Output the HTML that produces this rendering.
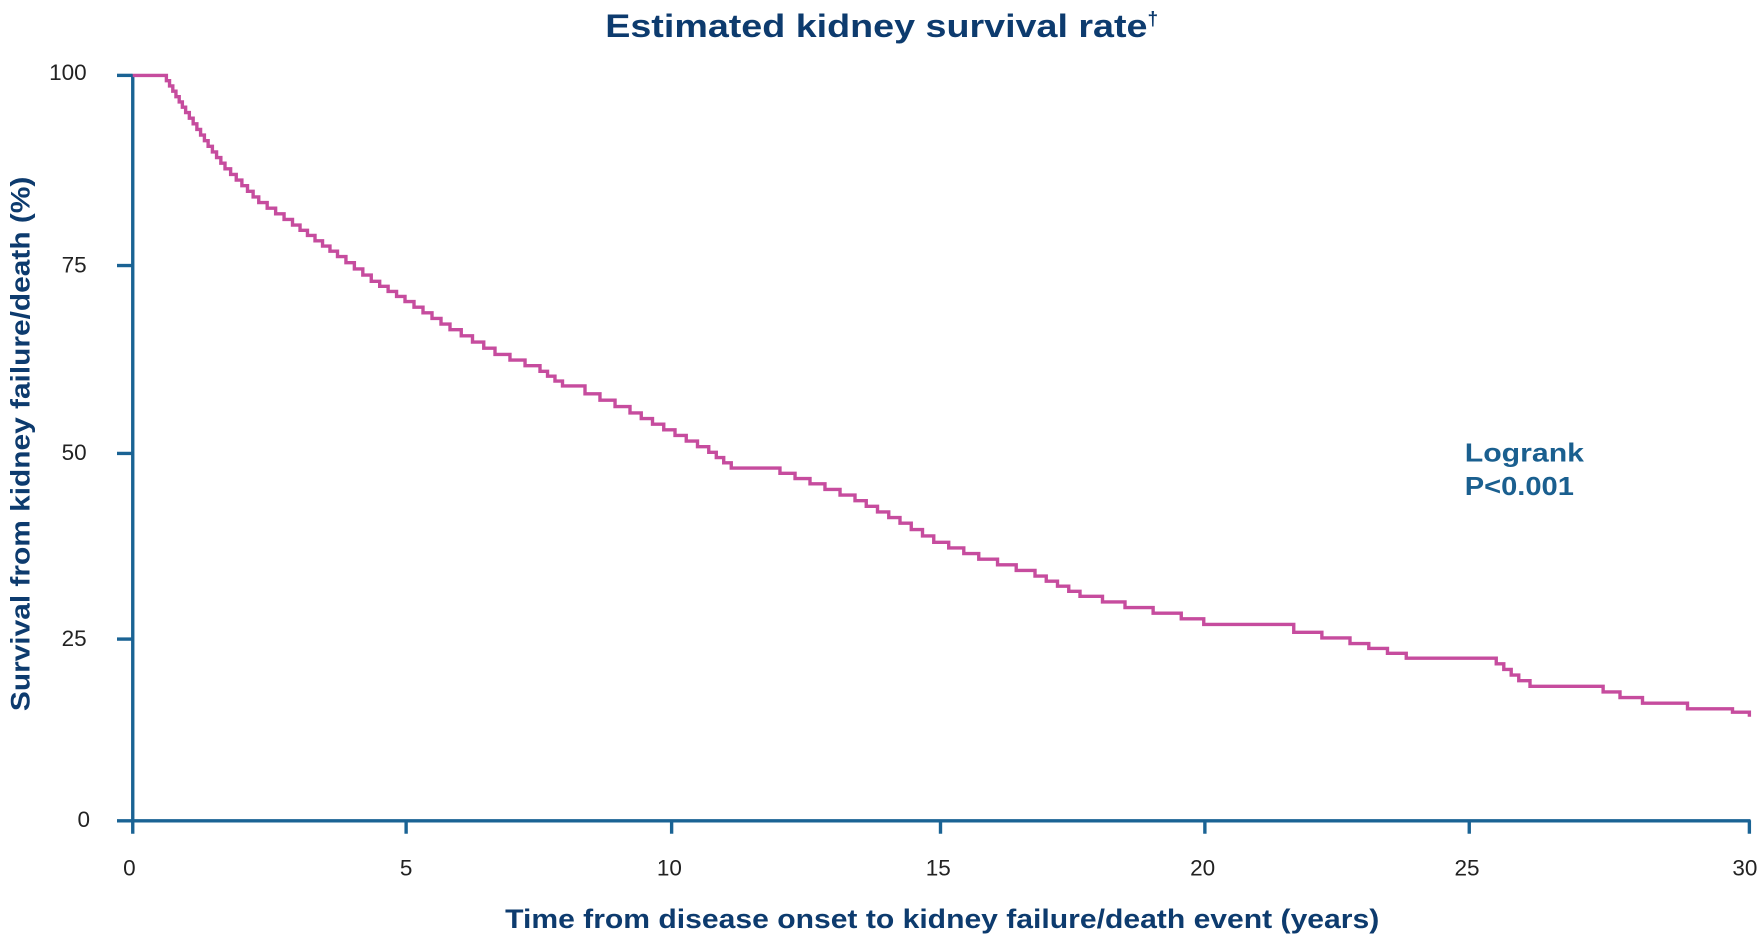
<!DOCTYPE html>
<html><head><meta charset="utf-8"><style>html,body{margin:0;padding:0;background:#fff}svg{display:block}</style></head>
<body>
<svg id="s" width="1764" height="944" viewBox="0 0 1568 839" preserveAspectRatio="none" xmlns="http://www.w3.org/2000/svg" font-family="Liberation Sans, sans-serif">
<text x="538" y="33" textLength="482" lengthAdjust="spacingAndGlyphs" font-size="29" font-weight="bold" fill="#0d3b6e">Estimated kidney survival rate</text>
<text x="1020" y="22" font-size="17" font-weight="bold" fill="#0d3b6e">†</text>
<g stroke="#1a6394" stroke-width="3" fill="none">
<line x1="118" y1="66" x2="118" y2="741"/>
<line x1="104" y1="729.5" x2="1556" y2="729.5"/>
<line x1="104" y1="67" x2="118" y2="67"/>
<line x1="104" y1="236" x2="118" y2="236"/>
<line x1="104" y1="403" x2="118" y2="403"/>
<line x1="104" y1="568" x2="118" y2="568"/>
<line x1="361" y1="729" x2="361" y2="741"/>
<line x1="597" y1="729" x2="597" y2="741"/>
<line x1="836" y1="729" x2="836" y2="741"/>
<line x1="1071" y1="729" x2="1071" y2="741"/>
<line x1="1306" y1="729" x2="1306" y2="741"/>
<line x1="1555" y1="729" x2="1555" y2="741"/>
</g>
<g font-size="20" fill="#222" text-anchor="end">
<text x="77" y="71">100</text><text x="77" y="242">75</text><text x="77" y="409">50</text><text x="77" y="574">25</text><text x="80" y="735">0</text>
</g>
<g font-size="20" fill="#222" text-anchor="middle">
<text x="115" y="778">0</text><text x="361" y="778">5</text><text x="595" y="778">10</text><text x="834" y="778">15</text><text x="1069" y="778">20</text><text x="1304" y="778">25</text><text x="1551" y="778">30</text>
</g>
<text x="449" y="825" textLength="777" lengthAdjust="spacingAndGlyphs" font-size="24" font-weight="bold" fill="#0d3b6e">Time from disease onset to kidney failure/death event (years)</text>
<text transform="translate(26,632) rotate(-90)" textLength="475" lengthAdjust="spacingAndGlyphs" font-size="24" font-weight="bold" fill="#0d3b6e">Survival from kidney failure/death (%)</text>
<text x="1302" y="410" textLength="106" lengthAdjust="spacingAndGlyphs" font-size="23" font-weight="bold" fill="#1a5f8f">Logrank</text>
<text x="1302" y="440" textLength="97" lengthAdjust="spacingAndGlyphs" font-size="23" font-weight="bold" fill="#1a5f8f">P&lt;0.001</text>
<path id="c" fill="none" stroke="#c64c9e" stroke-width="3" d=""/>
</svg>
<script>
var a=[[118,67],[145,67],[165,100],[185,130],[200,150],[230,180],[260,200],[300,228],[330,250],[360,268],[400,293],[440,315],[480,330],[500,343],[520,350],[560,367],[580,377],[600,387],[630,402],[650,416],[680,416],[720,430],[760,445],[800,465],[830,482],[870,497],[920,512],[960,530],[1000,540],[1050,550],[1070,555],[1110,555],[1150,562],[1200,572],[1250,585],[1305,585],[1330,590],[1350,605],[1360,610],[1410,610],[1440,620],[1460,625],[1500,630],[1540,633],[1555,637]];
var d="M118,67";var cx=118,cy=67;
for(var i=1;i<a.length;i++){var x=a[i][0],y=a[i][1];var dy=y-cy,dx=x-cx;var n=Math.max(1,Math.round(dy/5));
if(dy<=0){d+=" H"+x;cx=x;continue;}
for(var k=1;k<=n;k++){var nx=cx+dx*k/n, ny=cy+dy*k/n;d+=" H"+nx.toFixed(1)+" V"+ny.toFixed(1);}
cx=x;cy=y;}
document.getElementById("c").setAttribute("d",d);
</script>
</body></html>
